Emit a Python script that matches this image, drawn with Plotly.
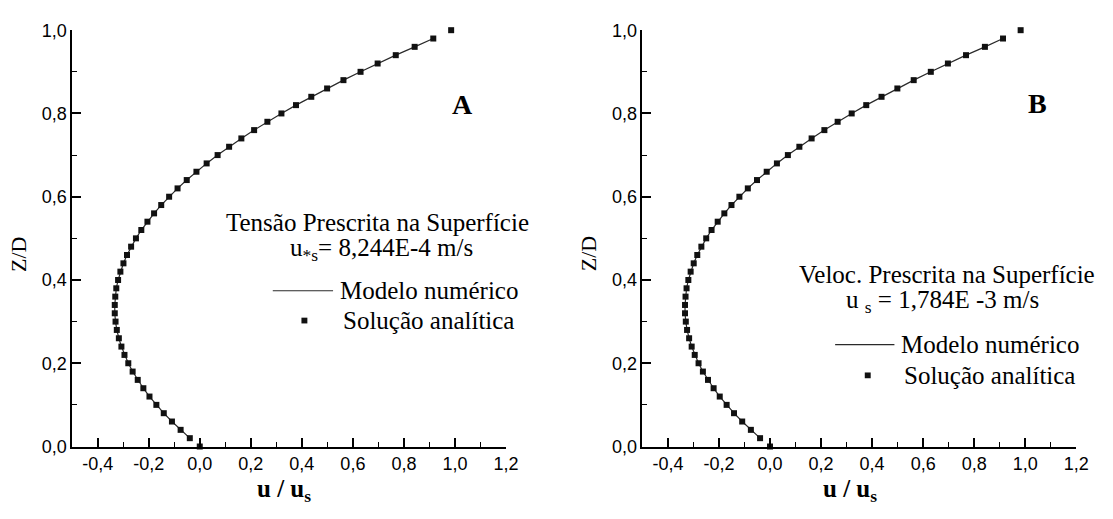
import plotly.graph_objects as go

W, H = 1113, 519

# Nondimensional depth z/D of the analytic solution points
z_analytic = [0.00, 0.02, 0.04, 0.06, 0.08, 0.10, 0.12, 0.14, 0.16, 0.18,
              0.20, 0.22, 0.24, 0.26, 0.28, 0.30, 0.32, 0.34, 0.36, 0.38,
              0.40, 0.42, 0.44, 0.46, 0.48, 0.50, 0.52, 0.54, 0.56, 0.58,
              0.60, 0.62, 0.64, 0.66, 0.68, 0.70, 0.72, 0.74, 0.76, 0.78,
              0.80, 0.82, 0.84, 0.86, 0.88, 0.90, 0.92, 0.94, 0.96, 0.98,
              1.00]

# Velocity u/u_s of the analytic solution (surface stress case, panel A)
u_analytic_A = [0.000, -0.039, -0.075, -0.109, -0.141, -0.170, -0.197, -0.221,
                -0.243, -0.263, -0.280, -0.295, -0.307, -0.317, -0.325, -0.330,
                -0.333, -0.333, -0.331, -0.327, -0.320, -0.311, -0.299, -0.285,
                -0.269, -0.250, -0.229, -0.205, -0.179, -0.151, -0.120, -0.087,
                -0.051, -0.013, 0.027, 0.070, 0.115, 0.163, 0.213, 0.265,
                0.320, 0.377, 0.437, 0.499, 0.563, 0.630, 0.697, 0.768,
                0.842, 0.915, 0.985]

# Velocity u/u_s of the analytic solution (surface velocity case, panel B)
u_analytic_B = [0.000, -0.039, -0.075, -0.109, -0.141, -0.170, -0.197, -0.221,
                -0.243, -0.263, -0.280, -0.295, -0.307, -0.317, -0.325, -0.330,
                -0.333, -0.333, -0.331, -0.327, -0.320, -0.311, -0.299, -0.285,
                -0.269, -0.250, -0.229, -0.205, -0.179, -0.151, -0.120, -0.087,
                -0.051, -0.013, 0.027, 0.070, 0.115, 0.163, 0.213, 0.265,
                0.320, 0.377, 0.437, 0.499, 0.563, 0.630, 0.697, 0.768,
                0.842, 0.913, 0.982]

# Numerical model levels (interior cells only)
z_model = [0.02, 0.04, 0.06, 0.08, 0.10, 0.12, 0.14, 0.16, 0.18, 0.20,
           0.22, 0.24, 0.26, 0.28, 0.30, 0.32, 0.34, 0.36, 0.38, 0.40,
           0.42, 0.44, 0.46, 0.48, 0.50, 0.52, 0.54, 0.56, 0.58, 0.60,
           0.62, 0.64, 0.66, 0.68, 0.70, 0.72, 0.74, 0.76, 0.78, 0.80,
           0.82, 0.84, 0.86, 0.88, 0.90, 0.92, 0.94, 0.96, 0.98]

u_model_A = [-0.039, -0.075, -0.109, -0.141, -0.170, -0.197, -0.221, -0.243,
             -0.263, -0.280, -0.295, -0.307, -0.317, -0.325, -0.330, -0.333,
             -0.333, -0.331, -0.327, -0.320, -0.311, -0.299, -0.285, -0.269,
             -0.250, -0.229, -0.205, -0.179, -0.151, -0.120, -0.087, -0.051,
             -0.013, 0.027, 0.070, 0.115, 0.163, 0.213, 0.265, 0.320,
             0.377, 0.437, 0.499, 0.563, 0.630, 0.697, 0.768, 0.842, 0.915]

u_model_B = [-0.039, -0.075, -0.109, -0.141, -0.170, -0.197, -0.221, -0.243,
             -0.263, -0.280, -0.295, -0.307, -0.317, -0.325, -0.330, -0.333,
             -0.333, -0.331, -0.327, -0.320, -0.311, -0.299, -0.285, -0.269,
             -0.250, -0.229, -0.205, -0.179, -0.151, -0.120, -0.087, -0.051,
             -0.013, 0.027, 0.070, 0.115, 0.163, 0.213, 0.265, 0.320,
             0.377, 0.437, 0.499, 0.563, 0.630, 0.697, 0.768, 0.842, 0.913]

x_ticks = [-0.4, -0.2, 0.0, 0.2, 0.4, 0.6, 0.8, 1.0, 1.2]
x_labels = ["-0,4", "-0,2", "0,0", "0,2", "0,4", "0,6", "0,8", "1,0", "1,2"]
y_ticks = [0.0, 0.2, 0.4, 0.6, 0.8, 1.0]
y_labels = ["0,0", "0,2", "0,4", "0,6", "0,8", "1,0"]

SERIF = "Liberation Serif"
SANS = "Liberation Sans"


def fx(p):
    return p / W


def fy(p):
    return 1 - p / H


fig = go.Figure()

for u_mod, u_ana, xa, ya in [(u_model_A, u_analytic_A, "x", "y"),
                             (u_model_B, u_analytic_B, "x2", "y2")]:
    fig.add_trace(go.Scatter(
        x=u_mod, y=z_model, mode="lines", xaxis=xa, yaxis=ya,
        line=dict(color="#2a2a2a", width=1.2), name="Modelo numérico",
        showlegend=False, cliponaxis=False))
    fig.add_trace(go.Scatter(
        x=u_ana, y=z_analytic, mode="markers", xaxis=xa, yaxis=ya,
        marker=dict(symbol="square", size=6, color="#111111"),
        name="Solução analítica", showlegend=False, cliponaxis=False))

axis_common = dict(
    showline=True, linecolor="black", linewidth=1.5,
    ticks="inside", ticklen=9, tickwidth=1.5, tickcolor="black",
    showgrid=False, zeroline=False, mirror=False,
    tickfont=dict(family=SANS, size=18, color="black"),
    minor=dict(ticks="inside", ticklen=5, tickwidth=1.2, tickcolor="black",
               dtick=0.1, showgrid=False),
)

left_dom = [fx(73), fx(512)]
right_dom = [fx(650), fx(1089)]
y_dom = [fy(454), fy(21)]

fig.update_layout(
    width=W, height=H,
    margin=dict(l=0, r=0, t=0, b=0),
    paper_bgcolor="white", plot_bgcolor="white",
    xaxis=dict(axis_common, domain=left_dom, range=[-0.5, 1.2],
               tickmode="array", tickvals=x_ticks, ticktext=x_labels,
               anchor="y"),
    yaxis=dict(axis_common, domain=y_dom, range=[0, 1.0],
               tickmode="array", tickvals=y_ticks, ticktext=y_labels,
               anchor="x"),
    xaxis2=dict(axis_common, domain=right_dom, range=[-0.5, 1.2],
                tickmode="array", tickvals=x_ticks, ticktext=x_labels,
                anchor="y2"),
    yaxis2=dict(axis_common, domain=y_dom, range=[0, 1.0],
                tickmode="array", tickvals=y_ticks, ticktext=y_labels,
                anchor="x2"),
)

annotations = []
shapes = []


def text(x, y, s, size=25, bold=False, xanchor="center", angle=0):
    annotations.append(dict(
        x=fx(x), y=fy(y), xref="paper", yref="paper", text=s,
        showarrow=False, xanchor=xanchor, yanchor="middle", textangle=angle,
        font=dict(family=SERIF, size=size, color="black",
                  weight="bold" if bold else "normal")))


# Panel A
text(468, 98, "A", size=28, bold=True)
text(382, 221, "Tensão Prescrita na Superfície")
text(386, 249, "u<sub>*s</sub>= 8,244E-4 m/s")
text(342, 292, "Modelo numérico", xanchor="left")
text(345, 323, "Solução analítica", xanchor="left")
text(18, 254, "Z/D", size=22, angle=-90)
text(287, 500, "<b>u / u<sub>s</sub></b>", size=25)
shapes.append(dict(type="line", xref="paper", yref="paper",
                   x0=fx(276), x1=fx(337), y0=fy(292), y1=fy(292),
                   line=dict(color="#2a2a2a", width=1.2)))
shapes.append(dict(type="rect", xref="paper", yref="paper",
                   x0=fx(305), x1=fx(311), y0=fy(320), y1=fy(326),
                   fillcolor="#111111", line=dict(width=0)))

# Panel B
text(1050, 97, "B", size=28, bold=True)
text(958, 275, "Veloc. Prescrita na Superfície")
text(954, 303, "u <sub>s</sub> = 1,784E -3 m/s")
text(910, 348, "Modelo numérico", xanchor="left")
text(913, 380, "Solução analítica", xanchor="left")
text(595, 254, "Z/D", size=22, angle=-90)
text(860, 500, "<b>u / u<sub>s</sub></b>", size=25)
shapes.append(dict(type="line", xref="paper", yref="paper",
                   x0=fx(845), x1=fx(905), y0=fy(348), y1=fy(348),
                   line=dict(color="#2a2a2a", width=1.2)))
shapes.append(dict(type="rect", xref="paper", yref="paper",
                   x0=fx(875), x1=fx(881), y0=fy(377), y1=fy(383),
                   fillcolor="#111111", line=dict(width=0)))

fig.update_layout(annotations=annotations, shapes=shapes)

fig.write_html("out.html")
